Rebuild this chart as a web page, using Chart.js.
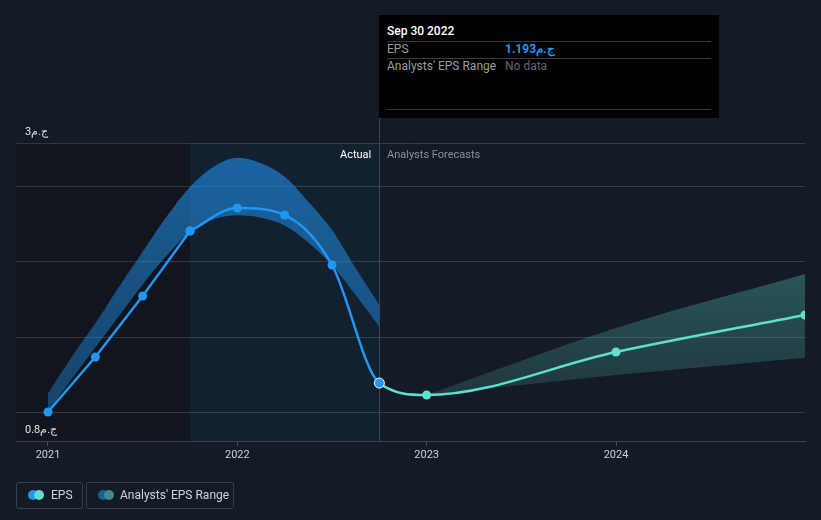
<!DOCTYPE html>
<html>
<head>
<meta charset="utf-8">
<script src="https://cdn.jsdelivr.net/npm/chart.js@4"></script>
<style>
  body { margin:0; background:#151b26; width:821px; height:520px; overflow:hidden; position:relative; font-family: Roboto, "Noto Sans", sans-serif; }
  canvas { position:absolute; left:0; top:0; }
  .tip { position:absolute; left:379px; top:15px; width:340px; height:103px; background:#000; }
  .tip .title { position:absolute; left:8px; top:9px; color:#fff; font-size:12px; font-weight:500; }
  .tip .sep { position:absolute; left:8px; width:324px; height:1px; background:#3a3a3a; }
  .tip .lab { position:absolute; left:8px; color:#9a9ea5; font-size:12px; }
  .tip .val { position:absolute; left:126px; font-size:12px; }
  .lbl { position:absolute; font-size:11px; top:148px; }
  .leg { position:absolute; top:482px; height:25px; border:1px solid #3a404b; border-radius:3px; color:#d0d4da; font-size:12px; }
  .dot { position:absolute; top:7px; width:10px; height:10px; border-radius:50%; }
  .leg span.t { position:absolute; top:5px; white-space:nowrap; }
</style>
</head>
<body>
<canvas id="c" width="821" height="520"></canvas>

<div class="tip">
  <div class="title">Sep 30 2022</div>
  <div class="sep" style="top:26px"></div>
  <div class="lab" style="top:27px">EPS</div>
  <div class="val" style="top:27px;color:#2196f3;font-weight:700">ج.م1.193</div>
  <div class="sep" style="top:43px"></div>
  <div class="lab" style="top:44px">Analysts' EPS Range</div>
  <div class="val" style="top:44px;color:#62666d">No data</div>
  <div class="sep" style="top:94px"></div>
</div>

<div class="lbl" style="left:340px;color:#ffffff">Actual</div>
<div class="lbl" style="left:387px;color:#8b9098">Analysts Forecasts</div>

<div class="leg" style="left:16px;width:65px">
  <div class="dot" style="left:11px;background:#2196f3"></div>
  <div class="dot" style="left:17px;background:#5ee0cc"></div>
  <span class="t" style="left:34px">EPS</span>
</div>
<div class="leg" style="left:86px;width:146px">
  <div class="dot" style="left:11px;background:#1f5f8f"></div>
  <div class="dot" style="left:17px;background:#3d8a87"></div>
  <span class="t" style="left:33px">Analysts' EPS Range</span>
</div>

<script>
// ---- data ----
const xTickYears = [2021, 2022, 2023, 2024];
const xTickLabels = ['2021', '2022', '2023', '2024'];
const yTickLabels = ['ج.م0.8', 'ج.م3'];
const yGridValues = [1.0, 1.5, 2.0, 2.5];

const epsYears  = [2021.0, 2021.25, 2021.5, 2021.75, 2022.0, 2022.25, 2022.5, 2022.75];
const epsValues = [1.0, 1.367, 1.773, 2.207, 2.36, 2.313, 1.98, 1.193];

const forecastYears  = [2023.0, 2024.0, 2024.998];
const forecastValues = [1.113, 1.40, 1.647];

const pastRangeYears = [2021.0, 2021.125, 2021.25, 2021.375, 2021.5, 2021.625, 2021.75, 2021.875,
                        2022.0, 2022.125, 2022.25, 2022.375, 2022.5, 2022.625, 2022.75];
const pastRangeHigh  = [1.125, 1.367, 1.591, 1.835, 2.069, 2.30, 2.50, 2.635,
                        2.695, 2.658, 2.569, 2.402, 2.213, 1.958, 1.713];
const pastRangeLow   = [1.0, 1.22, 1.43, 1.64, 1.85, 2.04, 2.20, 2.285,
                        2.311, 2.295, 2.244, 2.13, 1.978, 1.78, 1.569];

const fcRangeYears = [2023.0, 2024.0, 2024.998];
const fcRangeLow   = [1.113, 1.247, 1.362];
const fcRangeHigh  = [1.113, 1.56, 1.92];

const xMin = 2020.831, xMax = 2024.998;
const yMin = 0.8067, yMax = 2.7933;
const highlightStart = 2021.75, highlightEnd = 2022.75;

// ---- build ----
const pts = (xs, ys) => xs.map((x, i) => ({ x, y: ys[i] }));
const straightCount = 4;
const straightPts = pts(epsYears.slice(0, straightCount), epsValues.slice(0, straightCount));
const smoothPts = pts(epsYears.slice(straightCount - 1), epsValues.slice(straightCount - 1))
  .concat(pts(forecastYears, forecastValues));
const lastActualIdx = epsYears.length - straightCount; // index of 2022.75 in smoothPts

const BLUE = '#2196f3', TEAL = '#5ee0cc';

const bgPlugin = {
  id: 'bgRegions',
  beforeDraw(chart) {
    const { ctx, chartArea: a, scales: { x } } = chart;
    const x1 = x.getPixelForValue(highlightStart), x2 = x.getPixelForValue(highlightEnd);
    ctx.save();
    ctx.fillStyle = '#11151d';
    ctx.fillRect(a.left, a.top, x1 - a.left, a.bottom - a.top);
    ctx.fillStyle = '#12202f';
    ctx.fillRect(x1, a.top, x2 - x1, a.bottom - a.top);
    ctx.restore();
  },
  beforeDatasetsDraw(chart) {
    const { ctx, chartArea: a, scales: { x } } = chart;
    const x2 = Math.round(x.getPixelForValue(highlightEnd)) + 0.5;
    ctx.save();
    ctx.strokeStyle = '#3a4555';
    ctx.lineWidth = 1;
    ctx.beginPath();
    ctx.moveTo(x2, 118);
    ctx.lineTo(x2, a.bottom);
    ctx.stroke();
    ctx.restore();
  }
};

function fcGradient(ctx) {
  const c = ctx.chart, a = c.chartArea;
  if (!a) return 'rgba(94,224,204,0.25)';
  const g = c.ctx.createLinearGradient(0, 270, 0, 400);
  g.addColorStop(0, 'rgba(94,224,204,0.30)');
  g.addColorStop(1, 'rgba(94,224,204,0.14)');
  return g;
}
function pastGradient(ctx) {
  const c = ctx.chart, a = c.chartArea;
  if (!a) return 'rgba(33,150,243,0.55)';
  const g = c.ctx.createLinearGradient(0, 150, 0, 420);
  g.addColorStop(0, 'rgba(33,150,243,0.58)');
  g.addColorStop(1, 'rgba(33,150,243,0.35)');
  return g;
}

new Chart(document.getElementById('c'), {
  type: 'line',
  data: {
    datasets: [
      { data: pts(pastRangeYears, pastRangeHigh), borderWidth: 0, pointRadius: 0, fill: '+1',
        backgroundColor: pastGradient, cubicInterpolationMode: 'monotone' },
      { data: pts(pastRangeYears, pastRangeLow), borderWidth: 0, pointRadius: 0, fill: false, cubicInterpolationMode: 'monotone' },
      { data: pts(fcRangeYears, fcRangeHigh), borderWidth: 0, pointRadius: 0, fill: '+1',
        backgroundColor: fcGradient, cubicInterpolationMode: 'monotone' },
      { data: pts(fcRangeYears, fcRangeLow), borderWidth: 0, pointRadius: 0, fill: false, tension: 0 },
      { data: straightPts, borderColor: BLUE, borderWidth: 2.5, tension: 0,
        pointRadius: 4.5, pointBackgroundColor: BLUE, pointBorderWidth: 0 },
      { data: smoothPts, borderWidth: 2.5, cubicInterpolationMode: 'monotone',
        segment: { borderColor: s => s.p0DataIndex < lastActualIdx ? BLUE : TEAL },
        borderColor: BLUE,
        pointRadius: smoothPts.map((p, i) => i === lastActualIdx ? 5 : 4.5),
        pointBackgroundColor: smoothPts.map((p, i) => i <= lastActualIdx ? BLUE : TEAL),
        pointBorderColor: smoothPts.map((p, i) => i === lastActualIdx ? '#ffffff' : 'rgba(0,0,0,0)'),
        pointBorderWidth: smoothPts.map((p, i) => i === lastActualIdx ? 1 : 0) }
    ]
  },
  plugins: [bgPlugin],
  options: {
    responsive: false,
    animation: false,
    devicePixelRatio: 1,
    layout: { padding: { left: 16, right: 16, top: 143, bottom: 54 } },
    plugins: { legend: { display: false }, tooltip: { enabled: false } },
    scales: {
      x: {
        type: 'linear', min: xMin, max: xMax,
        afterBuildTicks: s => { s.ticks = xTickYears.map(v => ({ value: v })); },
        afterFit: s => { s.height = 25; },
        ticks: { color: '#cdd1d8', font: { family: 'Roboto', size: 11 }, padding: 3,
                 maxRotation: 0, callback: (v, i) => xTickLabels[i] },
        grid: { drawOnChartArea: false, drawTicks: true, tickLength: 5, color: '#4a505b' },
        border: { display: true, color: '#3d434e', width: 1 }
      },
      y: {
        type: 'linear', min: yMin, max: yMax,
        afterBuildTicks: s => { s.ticks = [yMin].concat(yGridValues, [yMax]).map(v => ({ value: v })); },
        afterFit: s => { s.width = 0; },
        ticks: { mirror: true, padding: 9, labelOffset: -11, color: '#e2e4e8',
                 font: { family: 'Roboto', size: 11 },
                 callback: (v, i, arr) => i === 0 ? yTickLabels[0] : (i === arr.length - 1 ? yTickLabels[1] : '') },
        grid: { drawTicks: false, color: 'rgba(255,255,255,0.14)' },
        border: { display: false }
      }
    }
  }
});
</script>
</body>
</html>
